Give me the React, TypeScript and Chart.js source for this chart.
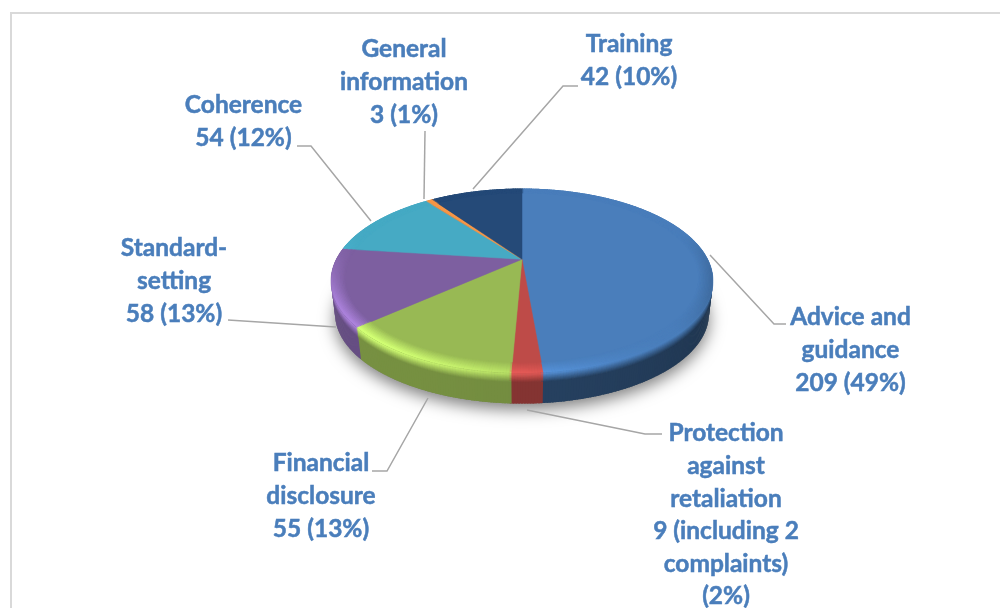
import React, { useEffect, useRef } from "react";
import { Chart, registerables } from "chart.js";

Chart.register(...registerables);

const categories = [
  "Advice and guidance",
  "Protection against retaliation",
  "Financial disclosure",
  "Standard-setting",
  "Coherence",
  "General information",
  "Training",
];
const values = [209, 9, 55, 58, 54, 3, 42];
const colours = ["#4a7ebb", "#be4b48", "#98b954", "#7d5fa0", "#46aac4", "#f79646", "#254a78"];
const labelLines = [
  ["Advice and", "guidance", "209 (49%)"],
  ["Protection", "against", "retaliation", "9 (including 2", "complaints)", "(2%)"],
  ["Financial", "disclosure", "55 (13%)"],
  ["Standard-", "setting", "58 (13%)"],
  ["Coherence", "54 (12%)"],
  ["General", "information", "3 (1%)"],
  ["Training", "42 (10%)"],
];

// Placement of the annotation text and leader lines (layout, not data)
const labelLayout = [
  { x: 850.5, y: 317.5 },
  { x: 726, y: 433.5 },
  { x: 321, y: 463.5 },
  { x: 174, y: 248.5 },
  { x: 243.5, y: 105.5 },
  { x: 404, y: 49.5 },
  { x: 629, y: 44.5 },
];
const labelStep = 32.6;
const leaders = [
  [[710, 255], [774, 324], [786, 324]],
  [[527, 410], [645, 434], [662, 434]],
  [[428, 398], [387, 471], [372, 471]],
  [[336, 327], [228, 320]],
  [[371, 221], [311, 146], [297, 146]],
  [[424, 199], [425, 131]],
  [[473, 189], [563, 86], [578, 86]],
];
const geom = { cx: 522, cy: 259.3, a: 86.9, b: 185.6, k: 0.236, depth: 33.5, baseScale: 0.98 };
const wallShade = [0.54, 0.36, 0.3, 0.26, 0.4, 0.4, 0.4];

type RGB = [number, number, number];
const hex = (h: string): RGB => [parseInt(h.slice(1, 3), 16), parseInt(h.slice(3, 5), 16), parseInt(h.slice(5, 7), 16)];
const mix = (c: RGB, d: RGB, t: number): RGB => [c[0] + (d[0] - c[0]) * t, c[1] + (d[1] - c[1]) * t, c[2] + (d[2] - c[2]) * t];
const css = (c: RGB) => `rgb(${Math.min(255, Math.round(c[0]))},${Math.min(255, Math.round(c[1]))},${Math.min(255, Math.round(c[2]))})`;
const BLACK: RGB = [0, 0, 0];

const pt = (t: number, s: number, d: number): [number, number] => {
  const u = s * Math.cos(t);
  const v = s * Math.sin(t);
  const den = 1 - geom.k * v;
  return [geom.cx + (geom.b * u) / den, geom.cy + (geom.a * v) / den + d];
};
const lit = (t: number) => Math.cos(t - (3 * Math.PI) / 4);
const frontness = (t: number) => Math.min(1, Math.max(0, (Math.sin(t) + 0.3) / 0.7));
const wallScale = (d: number) => 1 - ((1 - geom.baseScale) * d) / geom.depth;

const outline = (ctx: CanvasRenderingContext2D, a0: number, a1: number, s: number, d: number) => {
  const n = Math.max(2, Math.ceil(Math.abs(a1 - a0) / 0.02));
  for (let i = 0; i <= n; i++) {
    const p = pt(a0 + ((a1 - a0) * i) / n, s, d);
    ctx.lineTo(p[0], p[1]);
  }
};

// w runs from 0 (flat face) through 0.5 (rim) to 1 (base of the wall)
const profileColour = (face: RGB, shade: number, t: number, w: number): RGB => {
  const l = lit(t);
  const f = frontness(t);
  const g = l > 0 ? 1 + 0.4 * l * l * f : 1 + 0.35 * l * f;
  const rim: RGB = [face[0] * g, face[1] * g, face[2] * g];
  const wall = mix(face, BLACK, shade - 0.08 * l);
  return w < 0.5 ? mix(face, rim, w / 0.5) : mix(rim, wall, (w - 0.5) / 0.5);
};

const pie3d = {
  id: "pie3d",
  beforeDatasetsDraw(chart: any) {
    const ctx: CanvasRenderingContext2D = chart.ctx;
    const arcs = chart.getDatasetMeta(0).data;
    ctx.save();
    // soft drop shadow
    ctx.save();
    ctx.shadowColor = "rgba(0,0,0,0.5)";
    ctx.shadowBlur = 16;
    ctx.shadowOffsetY = 6;
    ctx.fillStyle = "#888";
    ctx.beginPath();
    outline(ctx, 0, Math.PI * 2, geom.baseScale, geom.depth);
    ctx.closePath();
    ctx.fill();
    ctx.restore();

    const ribbon = (a0: number, a1: number, s0: number, d0: number, s1: number, d1: number, col: string) => {
      ctx.fillStyle = col;
      ctx.beginPath();
      outline(ctx, a0, a1 + 0.008, s0, d0);
      outline(ctx, a1 + 0.008, a0, s1, d1);
      ctx.closePath();
      ctx.fill();
    };
    const STEP = 0.012;
    const forEachSeg = (fn: (a0: number, a1: number, face: RGB, shade: number) => void) => {
      arcs.forEach((arc: any, idx: number) => {
        const face = hex(arc.options.backgroundColor);
        const n = Math.max(1, Math.ceil((arc.endAngle - arc.startAngle) / STEP));
        for (let i = 0; i < n; i++) {
          const a0 = arc.startAngle + ((arc.endAngle - arc.startAngle) * i) / n;
          const a1 = arc.startAngle + ((arc.endAngle - arc.startAngle) * (i + 1)) / n;
          fn(a0, a1, face, wallShade[idx]);
        }
      });
    };
    const RIM_DEPTH = 10;
    // wall, deep to shallow
    forEachSeg((a0, a1, face, shade) => {
      ribbon(a0, a1, geom.baseScale, geom.depth, wallScale(RIM_DEPTH), RIM_DEPTH - 0.5, css(profileColour(face, shade, (a0 + a1) / 2, 1)));
    });
    const BANDS = 10;
    for (let b = BANDS - 1; b >= 0; b--) {
      const w0 = 0.5 + (0.5 * b) / BANDS;
      const w1 = 0.5 + (0.5 * (b + 1)) / BANDS;
      const d0 = ((w0 - 0.5) / 0.5) * RIM_DEPTH;
      const d1 = ((w1 - 0.5) / 0.5) * RIM_DEPTH;
      forEachSeg((a0, a1, face, shade) => {
        ribbon(a0, a1, wallScale(d1), d1, wallScale(d0), d0 - 0.5, css(profileColour(face, shade, (a0 + a1) / 2, (w0 + w1) / 2)));
      });
    }
    // flat top face
    arcs.forEach((arc: any) => {
      const p = pt(0, 0, 0);
      ctx.fillStyle = arc.options.backgroundColor;
      ctx.strokeStyle = arc.options.backgroundColor;
      ctx.lineWidth = 0.5;
      ctx.beginPath();
      ctx.moveTo(p[0], p[1]);
      outline(ctx, arc.startAngle, arc.endAngle, 1, 0);
      ctx.closePath();
      ctx.fill();
      ctx.stroke();
    });
    // bevel on the top face
    for (let b = 0; b < BANDS; b++) {
      const s0 = 0.93 + (0.07 * b) / BANDS;
      const s1 = 0.93 + (0.07 * (b + 1)) / BANDS;
      forEachSeg((a0, a1, face, shade) => {
        ribbon(a0, a1, s0 - 0.003, 0, s1, 0, css(profileColour(face, shade, (a0 + a1) / 2, (0.5 * (b + 0.5)) / BANDS)));
      });
    }
    ctx.restore();
    return false;
  },
  afterDraw(chart: any) {
    const ctx: CanvasRenderingContext2D = chart.ctx;
    ctx.save();
    // frame
    ctx.strokeStyle = "#d9d9d9";
    ctx.lineWidth = 2;
    ctx.beginPath();
    ctx.moveTo(11, 608);
    ctx.lineTo(11, 13);
    ctx.lineTo(1000, 13);
    ctx.stroke();
    // leaders
    ctx.strokeStyle = "#a6a6a6";
    ctx.lineWidth = 1.5;
    leaders.forEach((line) => {
      ctx.beginPath();
      line.forEach((p, i) => (i ? ctx.lineTo(p[0], p[1]) : ctx.moveTo(p[0], p[1])));
      ctx.stroke();
    });
    // labels
    ctx.fillStyle = "#4a7ebb";
    ctx.strokeStyle = "#4a7ebb";
    ctx.lineWidth = 0.5;
    ctx.font = "bold 24.5px Lato";
    ctx.textAlign = "center";
    ctx.textBaseline = "middle";
    labelLines.forEach((lines, i) => {
      lines.forEach((s, j) => {
        ctx.fillText(s, labelLayout[i].x, labelLayout[i].y + j * labelStep);
        ctx.strokeText(s, labelLayout[i].x, labelLayout[i].y + j * labelStep);
      });
    });
    ctx.restore();
  },
};

export default function App() {
  const ref = useRef<HTMLCanvasElement>(null);
  useEffect(() => {
    document.body.style.margin = "0";
    const chart = new Chart(ref.current!, {
      type: "pie",
      data: {
        labels: categories,
        datasets: [{ data: values, backgroundColor: colours, borderWidth: 0 }],
      },
      options: {
        animation: false,
        responsive: false,
        events: [],
        plugins: { legend: { display: false }, tooltip: { enabled: false } },
      },
      plugins: [pie3d],
    } as any);
    return () => chart.destroy();
  }, []);
  return <canvas ref={ref} width={1000} height={608} style={{ display: "block", position: "fixed", left: 0, top: 0 }} />;
}
